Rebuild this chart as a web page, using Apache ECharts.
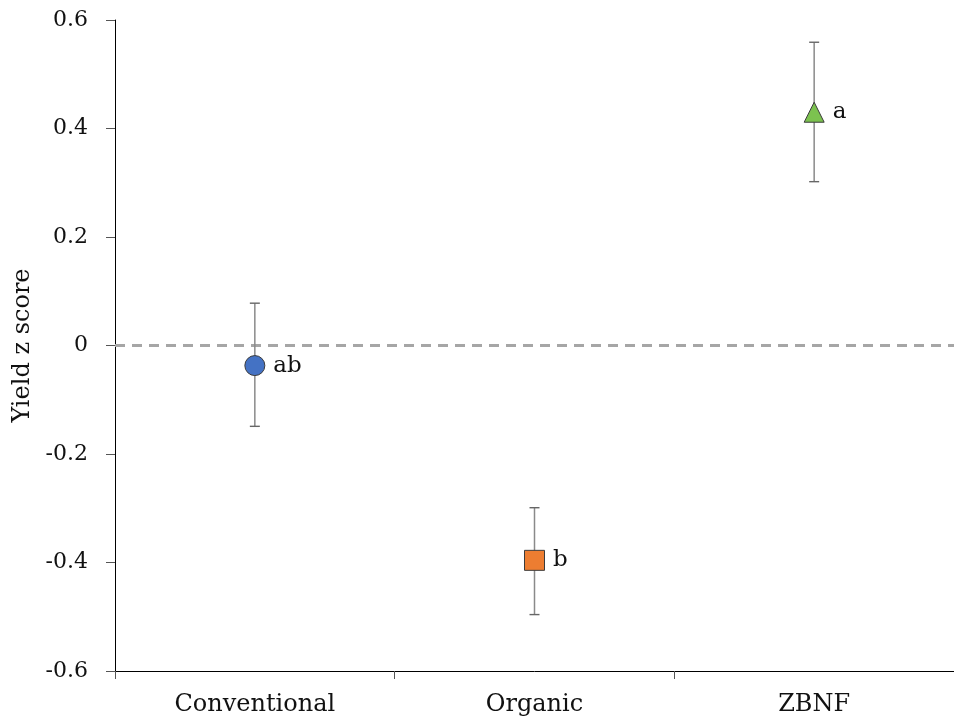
<!DOCTYPE html>
<html>
<head>
<meta charset="utf-8">
<script src="https://cdn.jsdelivr.net/npm/echarts@6/dist/echarts.min.js"></script>
<style>
html,body{margin:0;padding:0;background:#fff;}
#chart{width:954px;height:722px;}
</style>
</head>
<body>
<div id="chart"></div>
<script>
const categories = ['Conventional', 'Organic', 'ZBNF'];
const means = [-0.037, -0.396, 0.430];
const lower = [-0.149, -0.496, 0.302];
const upper = [0.078, -0.299, 0.559];
const letters = ['ab', 'b', 'a'];
const symbols = ['circle', 'rect', 'triangle'];
const colors = ['#4472C4', '#ED7D31', '#7CC24F'];
const yTicks = [-0.6, -0.4, -0.2, 0, 0.2, 0.4, 0.6];

const FONT = 'DejaVu Serif';
const chart = echarts.init(document.getElementById('chart'));

const errData = categories.map((c, i) => [i, lower[i], upper[i]]);
const ptData = categories.map((c, i) => ({
  value: [i, means[i]],
  symbol: symbols[i],
  itemStyle: { color: colors[i], borderColor: '#3b3b3b', borderWidth: 1, opacity: 1 },
  label: { formatter: letters[i] }
}));

chart.setOption({
  animation: false,
  backgroundColor: '#fff',
  grid: { left: 115, right: 0, top: 20, bottom: 51 },
  xAxis: {
    type: 'category',
    data: categories,
    boundaryGap: true,
    axisLine: { onZero: false, lineStyle: { color: '#000', width: 1 } },
    axisTick: { show: true, length: 8, interval: 0, lineStyle: { color: '#555' } },
    axisLabel: { fontFamily: FONT, fontSize: 24, color: '#111', margin: 22 },
    splitLine: { show: false }
  },
  yAxis: {
    type: 'value',
    min: -0.6, max: 0.6, interval: 0.2,
    name: 'Yield z score',
    nameLocation: 'middle',
    nameGap: 70,
    nameTextStyle: { fontFamily: FONT, fontSize: 24, color: '#111' },
    axisLine: { show: true, lineStyle: { color: '#000', width: 1 } },
    axisTick: { show: true, length: 9, lineStyle: { color: '#555' } },
    axisLabel: {
      fontFamily: FONT, fontSize: 22, color: '#111', margin: 27,
      formatter: v => {
        const t = yTicks.find(k => Math.abs(k - v) < 1e-9);
        const val = t === undefined ? v : t;
        return Math.abs(val) < 1e-9 ? '0' : val.toFixed(1);
      }
    },
    splitLine: { show: false }
  },
  series: [
    {
      type: 'custom',
      z: 2,
      data: errData,
      renderItem: (params, api) => {
        const x = api.value(0);
        const lo = api.coord([x, api.value(1)]);
        const hi = api.coord([x, api.value(2)]);
        const cap = 5;
        const style = { stroke: '#8a8a8a', lineWidth: 1.5 };
        return {
          type: 'group',
          children: [
            { type: 'line', shape: { x1: lo[0], y1: lo[1], x2: hi[0], y2: hi[1] }, style },
            { type: 'line', shape: { x1: lo[0] - cap, y1: lo[1], x2: lo[0] + cap, y2: lo[1] }, style: { stroke: '#666', lineWidth: 1.4 } },
            { type: 'line', shape: { x1: hi[0] - cap, y1: hi[1], x2: hi[0] + cap, y2: hi[1] }, style: { stroke: '#666', lineWidth: 1.4 } }
          ]
        };
      }
    },
    {
      type: 'scatter',
      z: 5,
      symbolSize: 20,
      data: ptData,
      label: {
        show: true, position: 'right', distance: 8,
        fontFamily: FONT, fontSize: 23, color: '#111'
      },
      markLine: {
        silent: true,
        symbol: 'none',
        label: { show: false },
        lineStyle: { color: '#a6a6a6', width: 3, type: [10, 7], opacity: 1 },
        data: [{ yAxis: 0 }],
        z: 1
      }
    }
  ]
});
</script>
</body>
</html>
